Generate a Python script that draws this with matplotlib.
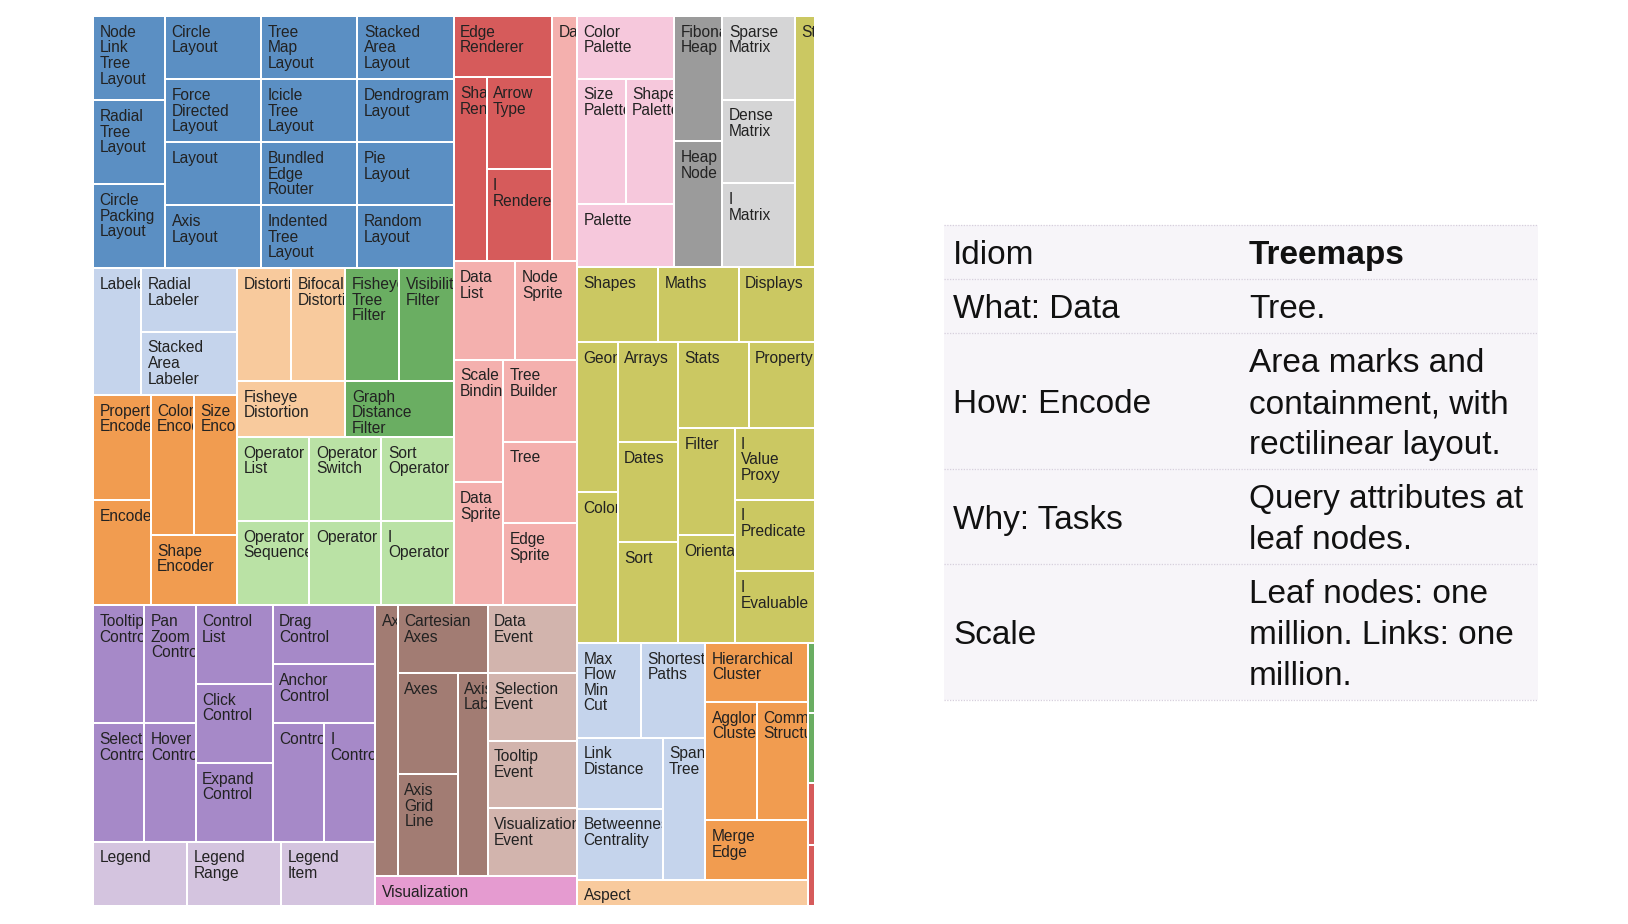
import matplotlib
matplotlib.use("Agg")
import matplotlib.pyplot as plt
from matplotlib.patches import Rectangle
from matplotlib.transforms import Bbox

# ---- data ---------------------------------------------------------------
# flare class names per package, in layout order; each class is one leaf
LEAF = 1
layout_cls = ["Node Link Tree Layout", "Radial Tree Layout", "Circle Packing Layout",
              "Circle Layout", "Tree Map Layout", "Stacked Area Layout",
              "Force Directed Layout", "Icicle Tree Layout", "Dendrogram Layout",
              "Layout", "Bundled Edge Router", "Pie Layout",
              "Axis Layout", "Indented Tree Layout", "Random Layout"]
label_cls = ["Labeler", "Radial Labeler", "Stacked Area Labeler"]
encoder_cls = ["Property Encoder", "Encoder", "Color Encoder", "Size Encoder",
               "Shape Encoder"]
distortion_cls = ["Distortion", "Bifocal Distortion", "Fisheye Distortion"]
filter_cls = ["Fisheye Tree Filter", "Visibility Filter", "Graph Distance Filter"]
operator_cls = ["Operator List", "Operator Switch", "Sort Operator",
                "Operator Sequence", "Operator", "I Operator"]
render_cls = ["Edge Renderer", "Shape Renderer", "Arrow Type", "I Renderer"]
data_cls = ["Data", "Data List", "Node Sprite", "Scale Binding", "Data Sprite",
            "Tree Builder", "Tree", "Edge Sprite"]
controls_cls = ["Tooltip Control", "Selection Control", "Pan Zoom Control",
                "Hover Control", "Control List", "Click Control", "Expand Control",
                "Drag Control", "Anchor Control", "Control", "I Control"]
legend_cls = ["Legend", "Legend Range", "Legend Item"]
axis_cls = ["Axis", "Cartesian Axes", "Axes", "Axis Grid Line", "Axis Label"]
events_cls = ["Data Event", "Selection Event", "Tooltip Event", "Visualization Event"]
vis_cls = ["Visualization"]
palette_cls = ["Color Palette", "Size Palette", "Shape Palette", "Palette"]
heap_cls = ["Fibonacci Heap", "Heap Node"]
math_cls = ["Sparse Matrix", "Dense Matrix", "I Matrix"]
util_cls = ["Strings", "Shapes", "Maths", "Displays", "Geometry", "Colors",
            "Arrays", "Dates", "Sort", "Stats", "Property", "Filter", "Orientation",
            "I Value Proxy", "I Predicate", "I Evaluable"]
graph_cls = ["Max Flow Min Cut", "Shortest Paths", "Link Distance",
             "Betweenness Centrality", "Spanning Tree"]
cluster_cls = ["Hierarchical Cluster", "Agglomerative Cluster",
               "Community Structure", "Merge Edge"]
optim_cls = ["Aspect Ratio Banker"]
# cells cut off by the right edge of the screenshot, only a sliver shows
edge_g_cls = ["", ""]
edge_r_cls = ["", ""]
edge_g_size = [0.134, 0.132]
edge_r_size = [0.118, 0.116]

# table beside the treemap
idiom_keys = ["Idiom", "What: Data", "How: Encode", "Why: Tasks", "Scale"]
idiom_vals = [["Treemaps"],
              ["Tree."],
              ["Area marks and", "containment, with", "rectilinear layout."],
              ["Query attributes at", "leaf nodes."],
              ["Leaf nodes: one", "million. Links: one", "million."]]

packages = {
    "layout": (layout_cls, None, "#5b8fc3"),
    "label": (label_cls, None, "#c5d4ec"),
    "encoder": (encoder_cls, None, "#f19c50"),
    "distortion": (distortion_cls, None, "#f8ca9d"),
    "filter": (filter_cls, None, "#6aae62"),
    "operator": (operator_cls, None, "#bae2a5"),
    "render": (render_cls, None, "#d65b5b"),
    "data": (data_cls, None, "#f4b0ae"),
    "controls": (controls_cls, None, "#a689c8"),
    "legend": (legend_cls, None, "#d4c4df"),
    "axis": (axis_cls, None, "#a27c73"),
    "events": (events_cls, None, "#d2b4ad"),
    "vis": (vis_cls, None, "#e59bd0"),
    "palette": (palette_cls, None, "#f6c8dc"),
    "heap": (heap_cls, None, "#9b9b9b"),
    "math": (math_cls, None, "#d5d5d6"),
    "util": (util_cls, None, "#cbc862"),
    "graph": (graph_cls, None, "#c5d4ec"),
    "cluster": (cluster_cls, None, "#f19c50"),
    "optim": (optim_cls, None, "#f8ca9d"),
    "edge_g": (edge_g_cls, edge_g_size, "#6aae62"),
    "edge_r": (edge_r_cls, edge_r_size, "#d65b5b"),
}


# ---- nesting of the slice-and-dice layout ---------------------------------
def H(*k):
    return ("h", k)


def V(*k):
    return ("v", k)


def run(o, pkg, n):
    return (o, (pkg,) * n)


SPEC = H(
    V(
        H(
            V(
                H(run("v", "layout", 3), V(*[run("h", "layout", 3)] * 4)),
                H(
                    V(H("label", run("v", "label", 2)),
                      H(run("v", "encoder", 2), V(run("h", "encoder", 2), "encoder"))),
                    V(H(V(run("h", "distortion", 2), "distortion"),
                        V(run("h", "filter", 2), "filter")),
                      run("h", "operator", 3), run("h", "operator", 3)),
                ),
            ),
            V(H(V("render", H("render", run("v", "render", 2))), "data"),
              run("h", "data", 2),
              H(run("v", "data", 2), run("v", "data", 3))),
        ),
        H(
            V(H(run("v", "controls", 2), run("v", "controls", 2),
                run("v", "controls", 3),
                V("controls", "controls", run("h", "controls", 2))),
              run("h", "legend", 3)),
            V(H("axis", V("axis", H(run("v", "axis", 2), "axis")),
                run("v", "events", 4)),
              "vis"),
        ),
    ),
    V(
        H(V("palette", run("h", "palette", 2), "palette"), run("v", "heap", 2),
          run("v", "math", 3), "util"),
        run("h", "util", 3),
        H(run("v", "util", 2), run("v", "util", 3),
          V(run("h", "util", 2), H(run("v", "util", 2), run("v", "util", 3)))),
        H(V(H(V(run("h", "graph", 2), H(run("v", "graph", 2), "graph")),
              V("cluster", run("h", "cluster", 2), "cluster")),
            "optim"),
          V("edge_g", "edge_g", "edge_r", "edge_r")),
    ),
)

feeds = {}
for key, (names, sizes, color) in packages.items():
    feeds[key] = iter(zip(names, sizes if sizes else [LEAF] * len(names)))


def build(node):
    if isinstance(node, str):
        name, size = next(feeds[node])
        return {"pkg": node, "name": name, "size": size}
    o, kids = node
    kids = [build(k) for k in kids]
    return {"o": o, "kids": kids, "size": sum(k["size"] for k in kids)}


def place(n, x, y, w, h, out):
    if "kids" not in n:
        out.append((n, x, y, w, h))
        return
    pos = 0.0
    for k in n["kids"]:
        f = k["size"] / n["size"]
        if n["o"] == "h":
            place(k, x + pos * w, y, f * w, h, out)
        else:
            place(k, x, y + pos * h, w, f * h, out)
        pos += f


# ---- figure -------------------------------------------------------------
W, Hpx = 1628, 924
fig = plt.figure(figsize=(W / 100, Hpx / 100), dpi=100)
fig.patch.set_facecolor("white")

# table (pixel coordinates over the whole figure)
tab = fig.add_axes([0, 0, 1, 1])
tab.set_xlim(0, W)
tab.set_ylim(Hpx, 0)
tab.axis("off")
TX0, TX1, TY0, COL2, PITCH = 944, 1538, 225, 1249, 41
tfont = dict(family="Liberation Sans", fontsize=24, color="#111111", va="baseline")
edges = [TY0]
for key, lines in zip(idiom_keys, idiom_vals):
    top = edges[-1]
    rh = 13 + PITCH * len(lines)
    mid = top + rh / 2 + 12
    tab.text(953, mid, key, **tfont)
    for i, line in enumerate(lines):
        tab.text(COL2, mid + (i - (len(lines) - 1) / 2) * PITCH, line,
                 fontweight="bold" if key == "Idiom" else "normal", **tfont)
    edges.append(top + rh)
tab.add_patch(Rectangle((TX0, edges[0]), TX1 - TX0, edges[-1] - edges[0],
                        facecolor="#f7f5f9", edgecolor="none", zorder=0))
for e in edges:
    tab.plot([TX0, TX1], [e, e], color="#d6cfdc", lw=0.9, ls=(0, (1, 1.2)), zorder=1)

# treemap, cropped at the screenshot's right edge
X0, Y0, CROP_W, TM_H, ROOT_W = 93, 16, 721, 890, 726.3
ax = fig.add_axes([X0 / W, 1 - (Y0 + TM_H) / Hpx, CROP_W / W, TM_H / Hpx])
ax.set_xlim(0, CROP_W)
ax.set_ylim(TM_H, 0)
ax.axis("off")

cells = []
place(build(SPEC), 0, 0, ROOT_W, TM_H, cells)
PAD = 1.0
LINE0, LINE_DY = 20.8, 15.6
for leaf, x, y, w, h in cells:
    color = packages[leaf["pkg"]][2]
    ax.add_patch(Rectangle((x + PAD, y + PAD), w - 2 * PAD, h - 2 * PAD,
                           facecolor=color, edgecolor="none"))
    (dx0, dy0), (dx1, dy1) = ax.transData.transform(
        [(x + PAD, y + h - PAD), (min(x + w - PAD, CROP_W), y + PAD)])
    clip = Bbox.from_extents(dx0, dy0, dx1, dy1)
    for i, word in enumerate(leaf["name"].split()):
        by = y + LINE0 + i * LINE_DY
        if by - 8 > y + h - PAD:
            break  # this line lies below the cell, the clip hides it
        t = ax.text(x + 6.5, by, word, family="Liberation Sans",
                    fontsize=11.2, color="#222222", va="baseline", ha="left",
                    clip_on=True)
        t.set_clip_path(None)
        t.set_clip_box(clip)

fig.savefig("out.png", dpi=100, facecolor="white")
